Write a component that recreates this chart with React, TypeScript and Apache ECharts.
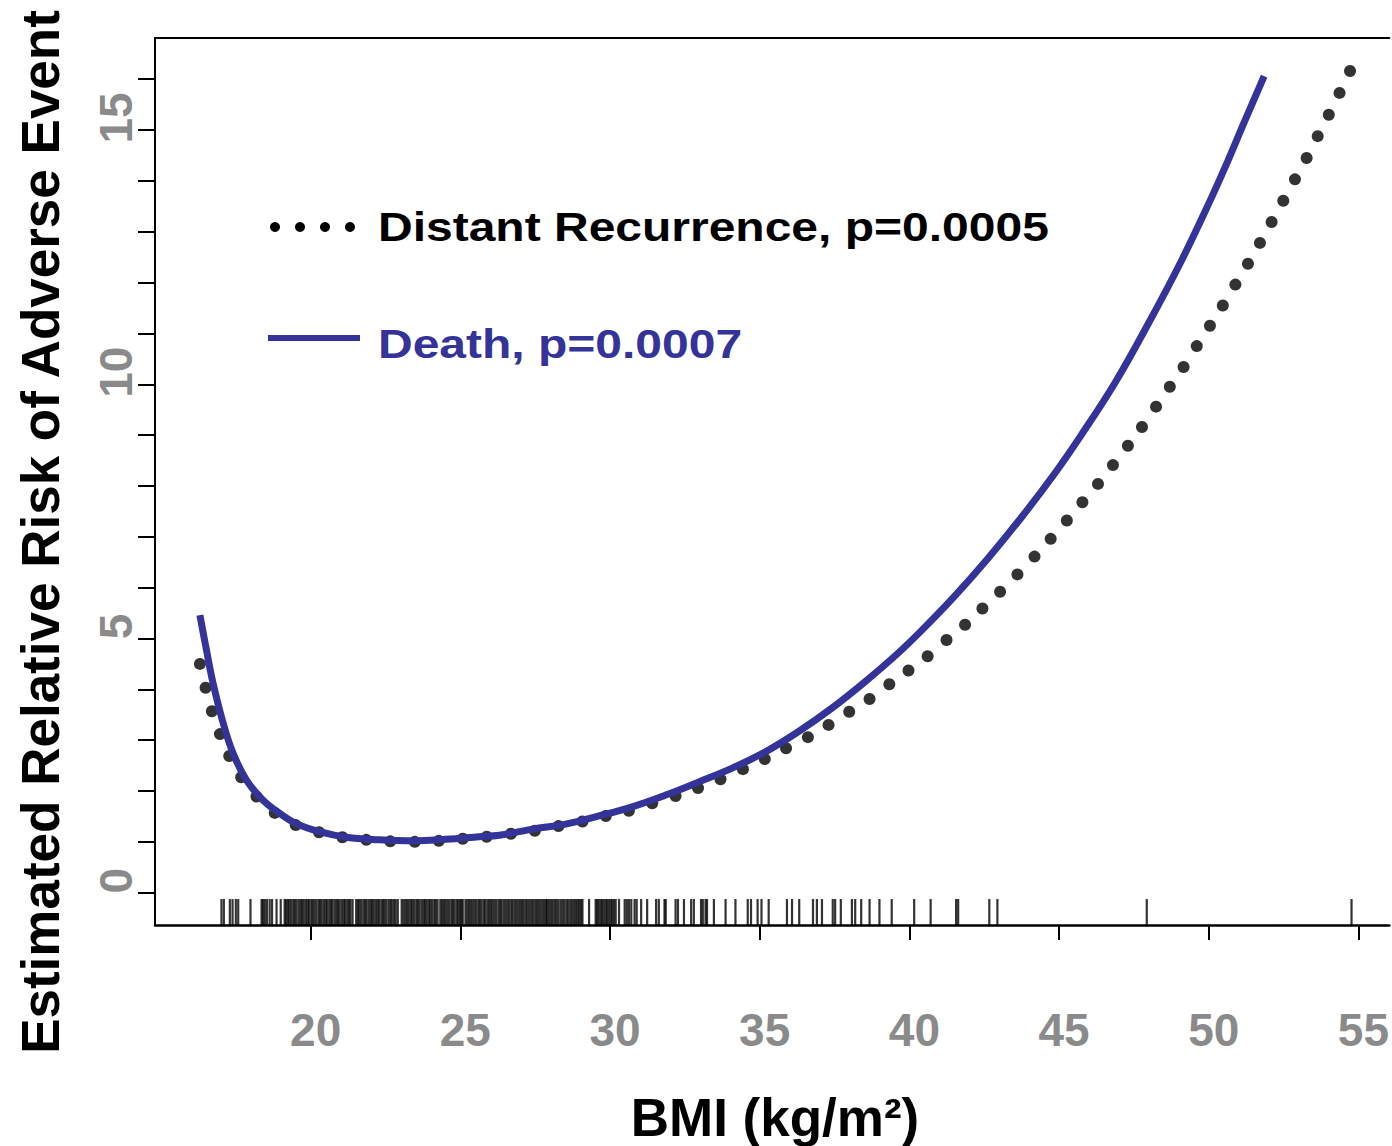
import React, { useEffect, useRef } from "react";
import * as echarts from "echarts";

const FONT = "Liberation Sans, Arial, Helvetica, sans-serif";
const BLUE = "#333399";
const GREY = "#8a8a8a";

// Death curve (BMI, relative risk)
const BMI_DEATH = [16.3, 16.52, 16.74, 17.08, 17.41, 17.86, 18.41, 18.97, 19.52, 20.3, 21.19, 22.3, 23.41, 24.52, 25.63, 26.3, 27.41, 28.52, 29.63, 30.74, 31.86, 32.97, 34.08, 35.19, 36.3, 37.41, 38.52, 39.6, 40.41, 41.52, 42.63, 43.74, 44.86, 45.74, 46.86, 47.97, 49.08, 50.1, 50.63, 51.19, 51.85];
const RISK_DEATH = [5.46, 4.77, 4.12, 3.33, 2.74, 2.21, 1.82, 1.56, 1.36, 1.2, 1.09, 1.04, 1.02, 1.05, 1.1, 1.13, 1.25, 1.35, 1.51, 1.69, 1.92, 2.18, 2.45, 2.77, 3.17, 3.63, 4.15, 4.7, 5.16, 5.84, 6.58, 7.38, 8.25, 9.0, 10.02, 11.18, 12.42, 13.68, 14.38, 15.16, 16.06];

// Distant recurrence curve (dotted)
const BMI_RECUR = [16.3, 16.49, 16.7, 16.97, 17.28, 17.68, 18.19, 18.8, 19.5, 20.28, 21.06, 21.86, 22.66, 23.48, 24.28, 25.08, 25.88, 26.69, 27.49, 28.28, 29.08, 29.86, 30.63, 31.41, 32.19, 32.94, 33.69, 34.44, 35.17, 35.88, 36.61, 37.3, 37.99, 38.67, 39.33, 39.97, 40.61, 41.24, 41.86, 42.44, 43.03, 43.61, 44.18, 44.72, 45.26, 45.78, 46.3, 46.8, 47.3, 47.77, 48.24, 48.7, 49.16, 49.6, 50.04, 50.47, 50.89, 51.31, 51.71, 52.1, 52.49, 52.88, 53.27, 53.64, 54.01, 54.37, 54.72];
const RISK_RECUR = [4.5, 4.03, 3.57, 3.12, 2.69, 2.27, 1.89, 1.57, 1.33, 1.19, 1.09, 1.04, 1.01, 1.0, 1.02, 1.06, 1.1, 1.16, 1.22, 1.31, 1.4, 1.51, 1.61, 1.76, 1.9, 2.06, 2.23, 2.43, 2.63, 2.84, 3.06, 3.3, 3.56, 3.81, 4.1, 4.37, 4.65, 4.97, 5.27, 5.59, 5.92, 6.26, 6.61, 6.96, 7.32, 7.68, 8.04, 8.41, 8.79, 9.16, 9.56, 9.95, 10.34, 10.75, 11.15, 11.55, 11.96, 12.37, 12.78, 13.19, 13.61, 14.03, 14.45, 14.88, 15.3, 15.73, 16.16];

// Rug of observed BMI values
const RUG_BMI = [
  17.02, 17.1, 17.3, 17.39, 17.5, 17.58, 17.99, 18.36, 18.41, 18.47, 18.54, 18.63, 18.71, 18.86, 19.0,
  19.13, 19.18, 19.24, 19.29, 19.35, 19.42, 19.47, 19.53, 19.6, 19.66, 19.71, 19.77, 19.84, 19.9, 19.95, 20.02, 20.07, 20.13, 20.19, 20.26, 20.31, 20.37, 20.44, 20.5, 20.55, 20.62, 20.68, 20.73, 20.8, 20.86, 20.91, 20.97, 21.04, 21.1, 21.15, 21.22, 21.28, 21.33, 21.4,
  21.52, 21.58, 21.63, 21.69, 21.76, 21.82, 21.87, 21.94, 22.0, 22.05, 22.11, 22.18, 22.24, 22.29, 22.36, 22.42, 22.47, 22.53, 22.6, 22.66, 22.71, 22.78, 22.84, 22.91,
  23.04, 23.1, 23.16, 23.22, 23.28, 23.35, 23.4, 23.46, 23.53, 23.58, 23.64, 23.71, 23.77, 23.82, 23.88, 23.95, 24.0, 24.06, 24.13, 24.18, 24.24,
  24.33, 24.39, 24.45, 24.51, 24.57, 24.63, 24.7, 24.75, 24.81, 24.88, 24.93, 24.99, 25.04, 25.08,
  25.17, 25.23, 25.29, 25.35, 25.41, 25.47, 25.53, 25.6, 25.65, 25.71, 25.78, 25.83, 25.9, 25.96, 26.02, 26.08, 26.14, 26.2, 26.27, 26.33, 26.38, 26.45, 26.51, 26.57, 26.63, 26.7, 26.75, 26.82, 26.88, 26.94, 27.0, 27.06, 27.12, 27.19, 27.25, 27.31, 27.37, 27.43, 27.5, 27.56, 27.62, 27.68, 27.74, 27.8, 27.86,
  27.9, 27.96, 28.03, 28.09, 28.16, 28.22, 28.28, 28.35, 28.41, 28.47, 28.54, 28.6, 28.67, 28.73, 28.8, 28.86, 28.92, 28.97, 29.03, 29.08,
  29.3, 29.52, 29.57, 29.62, 29.68, 29.73, 29.79, 29.85, 29.9, 29.96, 30.02, 30.07, 30.13, 30.19,
  30.3, 30.49, 30.56, 30.63, 30.71, 30.82, 30.89, 31.04, 31.24, 31.54, 31.63, 31.82, 31.86, 32.19, 32.27, 32.47, 32.71, 32.8, 33.04, 33.1, 33.19, 33.24, 33.47, 33.86, 34.19, 34.6, 34.71, 34.93, 35.06, 35.3, 35.91, 36.08, 36.32, 36.78, 36.91, 37.08, 37.44, 37.52, 37.71, 38.08, 38.19, 38.39, 38.67, 39.0, 39.41, 40.16, 40.71, 41.56, 41.63, 42.67, 42.94, 47.93, 54.77,
];
const RUG_LEVEL = -0.38;

const X_TICKS = [20, 25, 30, 35, 40, 45, 50, 55];
const Y_TICKS = [0, 1, 2, 3, 4, 5, 6, 7, 8, 9, 10, 11, 12, 13, 14, 15, 16];
const Y_LABELS = [0, 5, 10, 15];

const LEGEND_RECUR = "Distant Recurrence, p=0.0005";
const LEGEND_DEATH = "Death, p=0.0007";
const X_TITLE = "BMI (kg/m²)";
const Y_TITLE = "Estimated Relative Risk of Adverse Event";

export default function App() {
  const ref = useRef<HTMLDivElement>(null);
  useEffect(() => {
    document.body.style.margin = "0";
    const chart = echarts.init(ref.current!, null, { renderer: "svg" });
    const xMin = 14.8;
    const xMax = 56.033;
    chart.setOption({
      animation: false,
      backgroundColor: "#fff",
      grid: { left: 155, top: 38, right: 0, bottom: 221, containLabel: false },
      xAxis: [
        {
          type: "value",
          min: xMin,
          max: xMax,
          axisLine: { show: true, onZero: false, lineStyle: { color: "#000", width: 2.5 } },
          axisTick: { show: true, length: 15, customValues: X_TICKS, lineStyle: { color: "#000", width: 2 } },
          axisLabel: {
            customValues: X_TICKS,
            color: GREY,
            fontSize: 46,
            fontWeight: "bold",
            fontFamily: FONT,
            margin: 82,
            padding: [0, 0, 0, 10],
          },
          splitLine: { show: false },
        },
        {
          type: "value",
          position: "top",
          min: xMin,
          max: xMax,
          axisLine: { show: true, onZero: false, lineStyle: { color: "#000", width: 2 } },
          axisTick: { show: false },
          axisLabel: { show: false },
          splitLine: { show: false },
        },
      ],
      yAxis: {
        type: "value",
        min: -0.635,
        max: 16.81,
        axisLine: { show: true, onZero: false, lineStyle: { color: "#000", width: 2 } },
        axisTick: { show: true, length: 17, customValues: Y_TICKS, lineStyle: { color: "#000", width: 2 } },
        axisLabel: {
          customValues: Y_LABELS,
          rotate: 90,
          color: GREY,
          fontSize: 46,
          fontWeight: "bold",
          fontFamily: FONT,
          margin: 16,
          padding: [0, 0, 0, 24],
        },
        splitLine: { show: false },
      },
      series: [
        {
          name: "Rug",
          type: "scatter",
          symbol: "rect",
          symbolSize: [2.2, 26],
          itemStyle: { color: "#000" },
          data: RUG_BMI.map((b) => [b, RUG_LEVEL]),
          z: 1,
        },
        {
          name: "Distant Recurrence",
          type: "scatter",
          symbol: "circle",
          symbolSize: 12,
          itemStyle: { color: "#000" },
          data: BMI_RECUR.map((b, i) => [b, RISK_RECUR[i]]),
          z: 2,
        },
        {
          name: "Death",
          type: "line",
          smooth: 0.4,
          showSymbol: false,
          lineStyle: { color: BLUE, width: 7 },
          data: BMI_DEATH.map((b, i) => [b, RISK_DEATH[i]]),
          z: 3,
        },
      ],
      graphic: [
        {
          type: "text",
          x: 40,
          y: 532,
          rotation: Math.PI / 2,
          style: { text: Y_TITLE, fill: "#000", fontSize: 53, fontWeight: "bold", fontFamily: FONT, textAlign: "center", textVerticalAlign: "middle" },
        },
        {
          type: "text",
          x: 775,
          y: 1117,
          style: { text: X_TITLE, fill: "#000", fontSize: 53, fontWeight: "bold", fontFamily: FONT, textAlign: "center", textVerticalAlign: "middle" },
        },
        ...[275, 300, 325, 350].map((cx) => ({
          type: "circle",
          shape: { cx, cy: 227, r: 5 },
          style: { fill: "#000" },
        })),
        {
          type: "line",
          shape: { x1: 268, y1: 338, x2: 360, y2: 338 },
          style: { stroke: BLUE, lineWidth: 6 },
        },
        {
          type: "text",
          x: 378,
          y: 227,
          scaleX: 1.2,
          style: { text: LEGEND_RECUR, fill: "#000", fontSize: 40, fontWeight: "bold", fontFamily: FONT, textAlign: "left", textVerticalAlign: "middle" },
        },
        {
          type: "text",
          x: 378,
          y: 344,
          scaleX: 1.2,
          style: { text: LEGEND_DEATH, fill: BLUE, fontSize: 40, fontWeight: "bold", fontFamily: FONT, textAlign: "left", textVerticalAlign: "middle" },
        },
      ],
    });
    return () => chart.dispose();
  }, []);
  return <div ref={ref} style={{ width: 1392, height: 1146 }} />;
}
